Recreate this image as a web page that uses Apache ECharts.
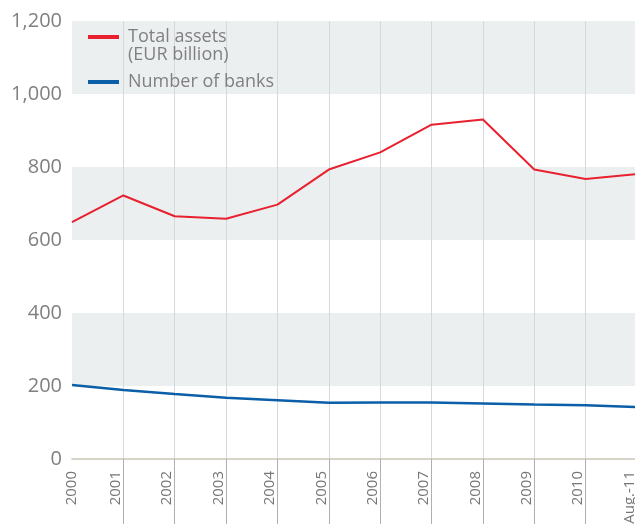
<!DOCTYPE html>
<html><head><meta charset="utf-8">
<script src="https://cdn.jsdelivr.net/npm/echarts@6/dist/echarts.min.js"></script>
<style>html,body{margin:0;padding:0;background:#fff}#c{width:635px;height:524px}</style>
</head><body><div id="c"></div>
<script>
const categories = ['2000','2001','2002','2003','2004','2005','2006','2007','2008','2009','2010','Aug.-11'];
const totalAssets = [649, 722, 665, 658, 697, 793, 840, 916, 930, 793, 767, 781];
const numberOfBanks = [203, 189, 178, 168, 161, 154, 155, 155, 152, 149, 147, 142];
const yTicks = {min: 0, max: 1200, interval: 200};
const nameAssets = 'Total assets (EUR billion)';
const nameBanks = 'Number of banks';

const chart = echarts.init(document.getElementById('c'));
const font = '"Open Sans", "Noto Sans", sans-serif';
chart.setOption({
  animation: false,
  textStyle: {fontFamily: font},
  grid: {left: 72, right: -2, top: 21, bottom: 65, containLabel: false, outerBoundsMode: 'none'},
  legend: {
    orient: 'vertical', left: 88, top: 10, padding: 0, itemGap: 9,
    itemWidth: 31, itemHeight: 4, icon: 'rect',
    textStyle: {color: '#808080', fontSize: 18, lineHeight: 18, fontFamily: font, padding: [0, 0, 0, 4]},
    data: [nameAssets, nameBanks],
    formatter: n => n === nameAssets ? '\u00a0\nTotal assets\n(EUR billion)' : n
  },
  xAxis: {
    type: 'category',
    data: categories.map((c, i) => i === 0 ? {value: c, textStyle: {verticalAlign: 'middle'}} : c),
    boundaryGap: false,
    axisLine: {lineStyle: {color: '#cbc5b8', width: 1.5}},
    axisTick: {show: true, length: 66, interval: (i) => i > 0, lineStyle: {color: '#b0b0b0', width: 1}},
    splitLine: {show: true, interval: (i) => i > 0, lineStyle: {color: '#d6d9da', width: 1}},
    axisLabel: {rotate: 90, color: '#777', fontSize: 15, margin: 12, fontFamily: font, interval: 0,
      verticalAlign: 'bottom'}
  },
  yAxis: {
    type: 'value', min: yTicks.min, max: yTicks.max, interval: yTicks.interval,
    axisLine: {show: false}, axisTick: {show: false},
    splitLine: {show: false},
    splitArea: {show: true, areaStyle: {color: ['rgba(255,255,255,0)', '#eceff0']}},
    axisLabel: {color: '#808080', fontSize: 20, margin: 10, fontFamily: font,
      formatter: v => v.toLocaleString('en-US')}
  },
  series: [
    {name: nameAssets, type: 'line', data: totalAssets, symbol: 'none',
     lineStyle: {color: '#e8202f', width: 2}, itemStyle: {color: '#e8202f'}, z: 3},
    {name: nameBanks, type: 'line', data: numberOfBanks, symbol: 'none',
     lineStyle: {color: '#0b5fa8', width: 2.5}, itemStyle: {color: '#0b5fa8'}, z: 3}
  ]
});
</script></body></html>
